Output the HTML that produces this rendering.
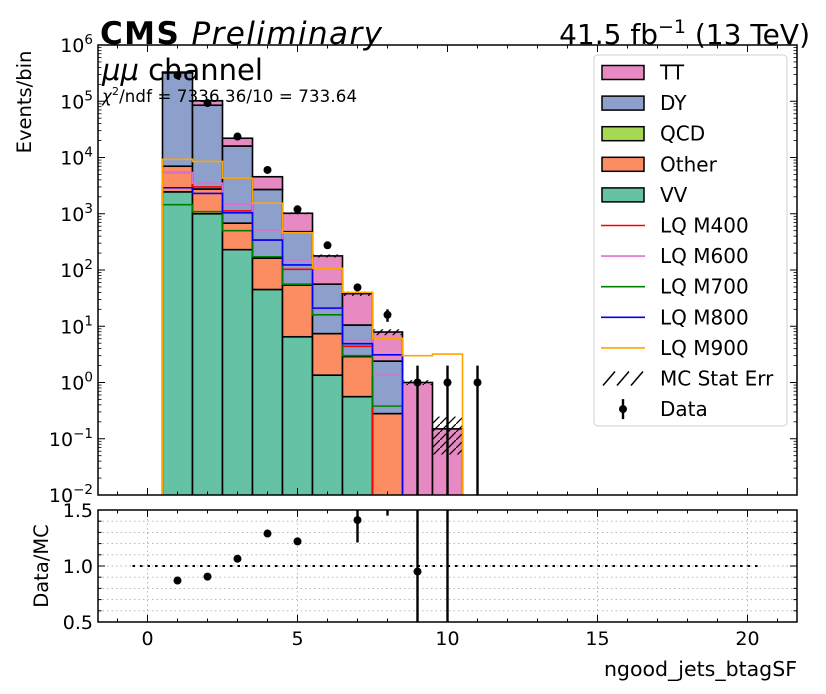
<!DOCTYPE html>
<html><head><meta charset="utf-8"><style>
html,body{margin:0;padding:0;background:#fff;}
svg{display:block;font-family:"DejaVu Sans","Liberation Sans",sans-serif;}
</style></head><body>
<svg id="chart" width="826" height="694" viewBox="0 0 826 694" xmlns="http://www.w3.org/2000/svg">
<defs>
<pattern id="hatch" patternUnits="userSpaceOnUse" width="8" height="8">
<path d="M0,8 L8,0" stroke="#000" stroke-width="1.3"/>
</pattern>
<clipPath id="mainclip"><rect x="98" y="45" width="699" height="450"/></clipPath>
<clipPath id="ratioclip"><rect x="98" y="510" width="699" height="112"/></clipPath>
</defs>
<g id="main" clip-path="url(#mainclip)"></g>
<g id="ratio" clip-path="url(#ratioclip)"></g>
<g id="axes"></g>
<g>
<text x="100" y="44" font-size="31" textLength="282"><tspan font-weight="bold">CMS</tspan> <tspan font-style="italic">Preliminary</tspan></text>
<text x="810" y="44" font-size="28" text-anchor="end">41.5 fb<tspan dy="-11" font-size="19">−1</tspan><tspan dy="11"> (13 TeV)</tspan></text>
<text x="102" y="80" font-size="29"><tspan font-style="italic">μμ</tspan> channel</text>
<text x="102" y="102" font-size="16.6" textLength="255"><tspan font-style="italic">χ</tspan><tspan dy="-7" font-size="11">2</tspan><tspan dy="7">/ndf = 7336.36/10 = 733.64</tspan></text>
</g>
<text transform="translate(31,102) rotate(-90)" font-size="19.5" text-anchor="middle">Events/bin</text>
<text transform="translate(48,566) rotate(-90)" font-size="19.5" text-anchor="middle">Data/MC</text>
<text x="797" y="676" font-size="20.5" text-anchor="end">ngood_jets_btagSF</text>
<g id="legend"></g>
<script>
const bins=[1,2,3,4,5,6,7,8,9,10];
const vv=[2450,1000,230,45,6.5,1.35,0.56,0,0,0];
const other=[4550,1750,450,117,47.5,6.05,2.34,0.28,0,0];
const qcd=[0,0,0,0,0,0,0,0,0,0];
const dy=[313000,82250,15320,2538,426,48.6,7.6,2.12,0,0];
const tt=[10000,17000,6000,1850,540,122,27.5,5.5,1.0,0.15];
const mcErr=[0.005,0.01,0.02,0.03,0.04,0.06,0.09,0.12,0.1,0.65];
const lqM400=[5400,3000,1120,340,103,21,4.4,0,0,0];
const lqM600=[5400,3500,1480,515,150,20,5.7,1.35,0,0];
const lqM700=[1450,1090,500,172,56,16,3.0,0.38,0,0];
const lqM800=[2900,2300,1040,340,123,21,4.9,3.1,0,0];
const lqM900=[9300,8500,4300,1540,460,107,40,6.1,3.0,3.2];
const dataX=[1,2,3,4,5,6,7,8,9,10,11];
const dataY=[290000,93000,23600,6000,1200,275,49,16,1,1,1];
const ratioX=[1,2,3,4,5,6,7,8,9,10];
const ratioY=[0.87,0.905,1.065,1.29,1.22,1.55,1.41,2.0,0.95,6.7];
const ratioErr=[0.005,0.01,0.02,0.02,0.03,0.04,0.2,0.55,0.96,6.7];
const xTicks=[0,5,10,15,20];
const yTickExp=[-2,-1,0,1,2,3,4,5,6];
const ratioTicks=[0.5,1.0,1.5];

const NS="http://www.w3.org/2000/svg";
const X0=98,X1=797,xmin=-1.65,xmax=21.65;
const sx=v=>X0+(v-xmin)/(xmax-xmin)*(X1-X0);
const YT=45,YB=495;
const sy=v=>{if(v<=0)return YB+20;return YT+(6-Math.log10(v))*(YB-YT)/8;};
const RT=510,RB=622;
const sr=v=>RB-(v-0.5)/1.0*(RB-RT);
function mk(tag,attrs,parent){const e=document.createElementNS(NS,tag);for(const k in attrs)e.setAttribute(k,attrs[k]);parent.appendChild(e);return e;}
const main=document.getElementById('main');
const ratio=document.getElementById('ratio');
const axes=document.getElementById('axes');
const legend=document.getElementById('legend');

const comps=[[vv,'#66c2a5','vv'],[other,'#fc8d62','other'],[qcd,'#a6d854','qcd'],[dy,'#8da0cb','dy'],[tt,'#e78ac3','tt']];
const cum=bins.map(()=>0);
comps.forEach(([arr,col,nm])=>{
  bins.forEach((b,i)=>{
    const lo=cum[i];cum[i]+=arr[i];
    if(arr[i]<=0)return;
    const yTop=sy(cum[i]),yBot=lo>0?sy(lo):YB+5;
    const r=mk('rect',{x:sx(b-0.5),y:yTop,width:sx(b+0.5)-sx(b-0.5),height:Math.max(0,yBot-yTop),fill:col,stroke:'#000','stroke-width':1.6},main);
    
    
  });
});
bins.forEach((b,i)=>{
  if(cum[i]<=0)return;
  const hi=cum[i]*(1+mcErr[i]),lo=cum[i]*(1-mcErr[i]);
  const r=mk('rect',{x:sx(b-0.5),y:sy(hi),width:sx(b+0.5)-sx(b-0.5),height:sy(lo)-sy(hi),fill:'url(#hatch)'},main);
  
  
});
const lqs=[[lqM400,'#ff0000','lq-m400'],[lqM600,'#da70d6','lq-m600'],[lqM700,'#008000','lq-m700'],[lqM800,'#0000ff','lq-m800'],[lqM900,'#ffa500','lq-m900']];
lqs.forEach(([arr,col,nm])=>{
  let d='M'+sx(0.5)+','+(YB+5);
  bins.forEach((b,i)=>{const y=sy(arr[i]);d+=' L'+sx(b-0.5)+','+y+' L'+sx(b+0.5)+','+y;});
  d+=' L'+sx(10.5)+','+(YB+5);
  const p=mk('path',{d:d,fill:'none',stroke:col,'stroke-width':1.6},main);
  
  
});
dataX.forEach((x,i)=>{
  const v=dataY[i],e=Math.sqrt(v);
  const l=mk('line',{x1:sx(x),x2:sx(x),y1:sy(v+e),y2:sy(v-e),stroke:'#000','stroke-width':2.4},main);
  
  
  const c=mk('circle',{cx:sx(x),cy:sy(v),r:4,fill:'#000'},main);
  
  
});
for(let v=0.6;v<1.45;v+=0.1){
  const g=mk('line',{x1:X0,x2:X1,y1:sr(v),y2:sr(v),stroke:'#b0b0b0','stroke-width':0.9,'stroke-dasharray':'1.5,3'},ratio);
  
  
}
xTicks.forEach(t=>{
  const g=mk('line',{x1:sx(t),x2:sx(t),y1:RT,y2:RB,stroke:'#b0b0b0','stroke-width':0.9,'stroke-dasharray':'1.5,3'},ratio);
  
  
});
const one=mk('line',{x1:sx(-0.5),x2:sx(20.5),y1:sr(1),y2:sr(1),stroke:'#000','stroke-width':2,'stroke-dasharray':'2.5,5'},ratio);


ratioX.forEach((x,i)=>{
  const v=ratioY[i],e=ratioErr[i];
  const l=mk('line',{x1:sx(x),x2:sx(x),y1:sr(v+e),y2:sr(v-e),stroke:'#000','stroke-width':2.4},ratio);
  
  
  const c=mk('circle',{cx:sx(x),cy:sr(v),r:4,fill:'#000'},ratio);
  
  
});
[[YT,YB,'main-frame'],[RT,RB,'ratio-frame']].forEach(([t,b,nm])=>{
  const r=mk('rect',{x:X0,y:t,width:X1-X0,height:b-t,fill:'none',stroke:'#000','stroke-width':1.5},axes);
  
  
});
for(let t=-1;t<=21;t++){
  const maj=xTicks.includes(t);const L=maj?7:3.5;
  [[YT,1],[YB,-1],[RT,1],[RB,-1]].forEach(([y,dir])=>{
    const l=mk('line',{x1:sx(t),x2:sx(t),y1:y,y2:y+dir*L,stroke:'#000','stroke-width':1},axes);
    
    
  });
}
xTicks.forEach(t=>{
  const tx=mk('text',{x:sx(t),y:645,'font-size':19,'text-anchor':'middle'},axes);
  tx.textContent=t;
  
  
});
yTickExp.forEach(e=>{
  const y=sy(Math.pow(10,e));
  [[X0,1],[X1,-1]].forEach(([x,dir])=>{
    const l=mk('line',{x1:x,x2:x+dir*7,y1:y,y2:y,stroke:'#000','stroke-width':1},axes);
    
    
  });
  if(e<6)for(let m=2;m<=9;m++){
    const ym=sy(m*Math.pow(10,e));
    [[X0,1],[X1,-1]].forEach(([x,dir])=>{
      const l=mk('line',{x1:x,x2:x+dir*3.5,y1:ym,y2:ym,stroke:'#000','stroke-width':0.8},axes);
      
      
    });
  }
  const tx=mk('text',{x:93,y:y+7,'font-size':19,'text-anchor':'end'},axes);
  tx.textContent='10';
  const sup=mk('tspan',{dy:-8,'font-size':13.5},tx);
  sup.textContent=(e<0?'−':'')+Math.abs(e);
  
  
});
for(let v=0.5;v<=1.51;v+=0.1){
  const maj=ratioTicks.some(t=>Math.abs(t-v)<1e-6);
  [[X0,1],[X1,-1]].forEach(([x,dir])=>{
    const l=mk('line',{x1:x,x2:x+dir*(maj?7:3.5),y1:sr(v),y2:sr(v),stroke:'#000','stroke-width':1},axes);
    
    
  });
}
ratioTicks.forEach(t=>{
  const tx=mk('text',{x:93,y:sr(t)+7,'font-size':19,'text-anchor':'end'},axes);
  tx.textContent=t.toFixed(1);
  
  
});
const lb=mk('rect',{x:594,y:55,width:193,height:371,rx:4,fill:'#fff','fill-opacity':0.85,stroke:'#d0d0d0','stroke-width':1},legend);


const entries=[['TT','box','#e78ac3'],['DY','box','#8da0cb'],['QCD','box','#a6d854'],['Other','box','#fc8d62'],['VV','box','#66c2a5'],['LQ M400','line','#ff0000'],['LQ M600','line','#da70d6'],['LQ M700','line','#008000'],['LQ M800','line','#0000ff'],['LQ M900','line','#ffa500'],['MC Stat Err','hatch','#000'],['Data','data','#000']];
entries.forEach(([lab,kind,col],i)=>{
  const y=72.5+i*30.6;
  const g=mk('g',{},legend);
  
  
  if(kind==='box')mk('rect',{x:602,y:y-7,width:42,height:14,fill:col,stroke:'#000','stroke-width':1.5},g);
  else if(kind==='line')mk('line',{x1:601,x2:645,y1:y,y2:y,stroke:col,'stroke-width':1.6},g);
  else if(kind==='hatch'){for(let k=0;k<3;k++)mk('line',{x1:603+k*14,y1:y+7,x2:615+k*14,y2:y-7,stroke:'#000','stroke-width':1.5},g);}
  else{mk('line',{x1:623,x2:623,y1:y-10,y2:y+10,stroke:'#000','stroke-width':2.4},g);mk('circle',{cx:623,cy:y,r:4,fill:'#000'},g);}
  const t=mk('text',{x:660,y:y+7,'font-size':20},g);
  t.textContent=lab;
});
</script>
</svg>
</body></html>
